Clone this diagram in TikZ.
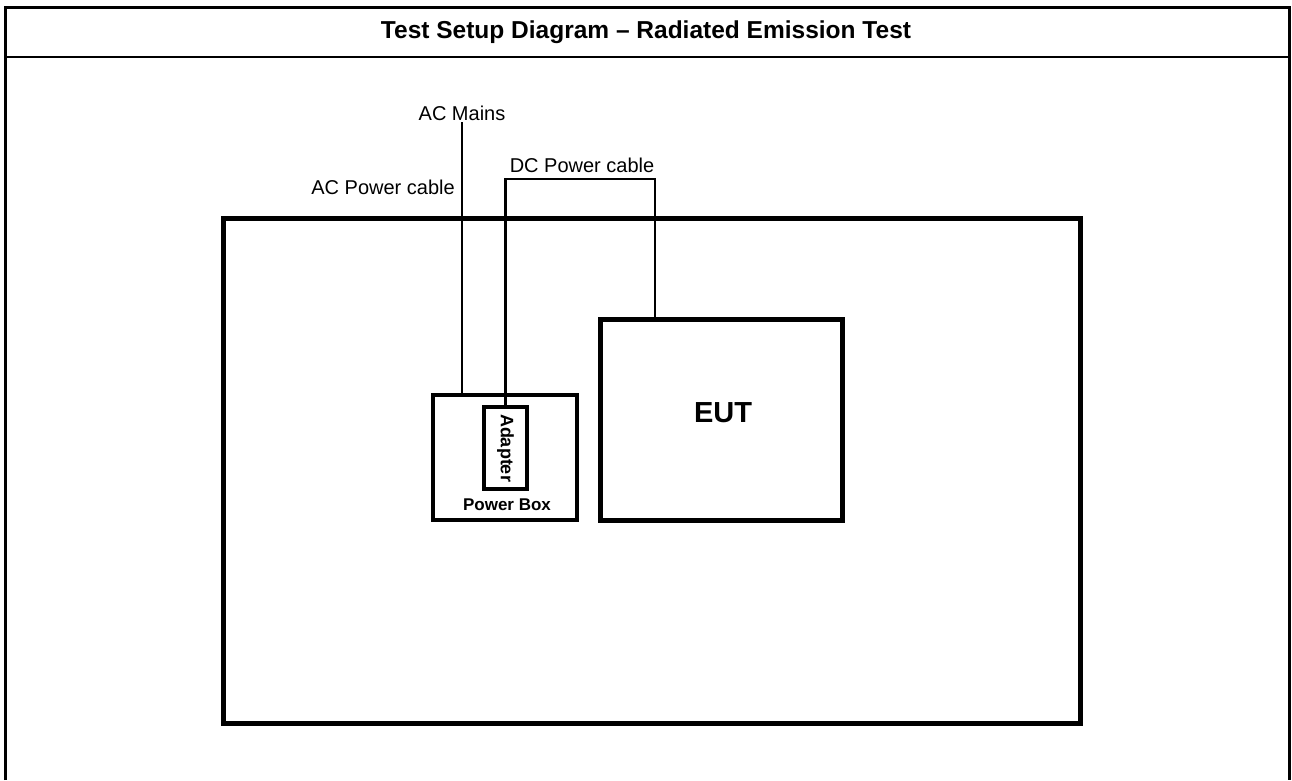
\documentclass[tikz,border=0pt]{standalone}
\usepackage{fontspec}
\setmainfont{Liberation Sans}
\begin{document}
\begin{tikzpicture}[x=1pt,y=-1pt,
  box/.style={draw,rectangle,inner sep=0pt,line width=#1},
  cable/.style={line width=2.5pt},
  lbl/.style={inner sep=1pt,font=\fontsize{20}{22}\selectfont},
  blbl/.style={inner sep=1pt,font=\bfseries\fontsize{17.5}{19}\selectfont}]
\useasboundingbox (0,0) rectangle (1292,780);
% outer frame
\draw[line width=3pt] (5.5,780) -- (5.5,7.5) -- (1289,7.5) -- (1289,780);
\draw[line width=2pt] (5.5,57) -- (1289,57);
\node[font=\bfseries\fontsize{24.5}{27}\selectfont] (title) at (646,32) {Test Setup Diagram – Radiated Emission Test};
% boxes
\node[box=5pt,minimum width=857pt,minimum height=505pt] (room) at (651.5,470.5) {};
\node[box=4.5pt,minimum width=144pt,minimum height=125pt] (pb) at (505,457.5) {};
\node[box=4pt,minimum width=43pt,minimum height=82pt] (ad) at (505.5,448) {};
\node[box=5pt,minimum width=242pt,minimum height=201pt] (eut) at (721,419.5) {};
% texts
\node[font=\bfseries\fontsize{29}{31}\selectfont] (euttxt) at (723,413) {EUT};
\node[blbl,font=\bfseries\fontsize{17}{19}\selectfont] (pbtxt) at (507,505) {Power Box};
\node[blbl,font=\bfseries\fontsize{18}{20}\selectfont,rotate=-90] (adtxt) at (505.5,448) {Adapter};
\node[lbl,anchor=south] (acm) at (462,122) {AC Mains};
\node[lbl,anchor=east] (acpc) at (456,187) {AC Power cable};
\node[lbl] (dcpc) at (582,165) {DC Power cable};
% cables
\coordinate (dctop) at (505.5,179);
\draw[cable] (acm.south) -- (acm.south |- pb.north);
\draw[cable] (ad.north) -- (dctop) -| (eut.north -| 655,0);
\end{tikzpicture}
\end{document}
